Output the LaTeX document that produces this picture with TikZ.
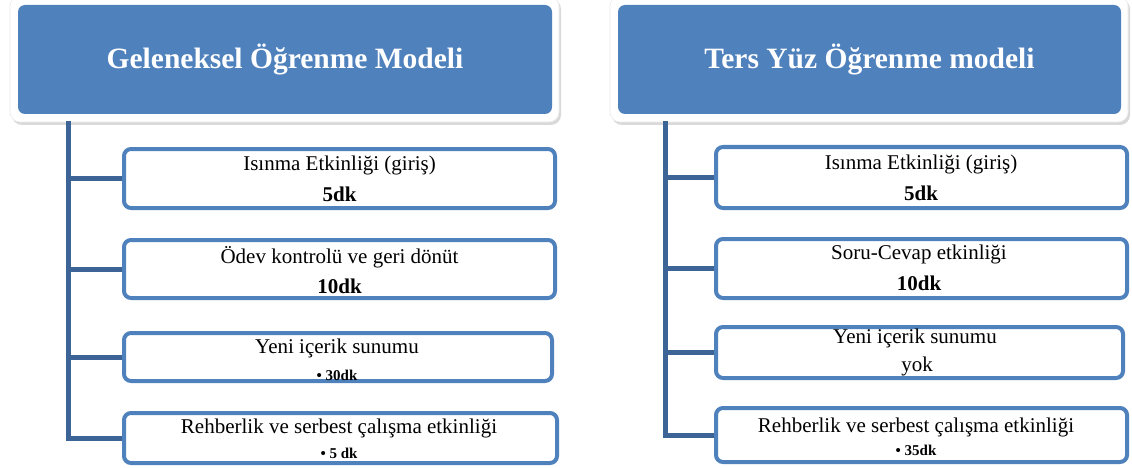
\documentclass[tikz,border=0pt]{standalone}
\usepackage{fontspec}
\setmainfont{Liberation Serif}
\usetikzlibrary{positioning,shadows}

\definecolor{ofisMavi}{RGB}{79,129,189}
\definecolor{hatMavi}{RGB}{60,100,150}

\begin{document}
\begin{tikzpicture}[x=1pt, y=-1pt, every node/.style={inner sep=0pt}]
  \tikzset{
    cerceve/.style={rounded corners=10pt, fill=white, draw=black!8, line width=0.6pt,
      drop shadow={shadow xshift=2pt, shadow yshift=-3pt, opacity=0.3}},
    baslik/.style={rounded corners=7pt, fill=ofisMavi, text=white,
      font=\fontsize{29.5}{34}\selectfont\bfseries},
    kutu/.style={draw=ofisMavi, line width=4pt, rounded corners=7pt, fill=white},
    satir/.style={anchor=base, font=\fontsize{21}{25}\selectfont},
    sure/.style={anchor=base, font=\fontsize{21}{25}\selectfont\bfseries},
    madde/.style={anchor=base, font=\fontsize{15}{18}\selectfont\bfseries},
    hat/.style={draw=hatMavi, line width=5pt}
  }
  \useasboundingbox (0,0) rectangle (1132,468);

  % baslik kutulari
  \node[cerceve, minimum width=549pt, minimum height=126pt] (lcerceve) at (284.5,59) {};
  \node[baslik, minimum width=534pt, minimum height=109pt] (lbaslik) at (285,59.5) {Geleneksel Öğrenme Modeli};
  \node[cerceve, minimum width=518pt, minimum height=126pt] (rcerceve) at (869,59) {};
  \node[baslik, minimum width=503pt, minimum height=109pt] (rbaslik) at (869.5,59.5) {Ters Yüz Öğrenme modeli};

  \coordinate (lkok) at (68,121);
  \coordinate (rkok) at (665,121);

  % sol kutular
  \node[kutu, minimum width=431pt, minimum height=59pt] (l1) at (339.5,178.5) {};
  \node[kutu, minimum width=431pt, minimum height=58pt] (l2) at (339.5,269) {};
  \node[kutu, minimum width=428pt, minimum height=48pt] (l3) at (338,357) {};
  \node[kutu, minimum width=433pt, minimum height=50pt] (l4) at (340.5,438) {};

  % sag kutular
  \node[kutu, minimum width=411pt, minimum height=61pt] (r1) at (921.5,177.5) {};
  \node[kutu, minimum width=411pt, minimum height=59pt] (r2) at (921.5,268.5) {};
  \node[kutu, minimum width=407pt, minimum height=51pt] (r3) at (919.5,352.5) {};
  \node[kutu, minimum width=411pt, minimum height=54pt] (r4) at (921.5,435) {};

  % baglantilar
  \draw[hat] (lkok) |- (l4.west);
  \draw[hat] (lkok |- l1.west) -- (l1.west);
  \draw[hat] (lkok |- l2.west) -- (l2.west);
  \draw[hat] (lkok |- l3.west) -- (l3.west);
  \draw[hat] (rkok) |- (r4.west);
  \draw[hat] (rkok |- r1.west) -- (r1.west);
  \draw[hat] (rkok |- r2.west) -- (r2.west);
  \draw[hat] (rkok |- r3.west) -- (r3.west);

  % sol metinler
  \node[satir] (l1a) at (339.5,170) {Isınma Etkinliği (giriş)};
  \node[sure]  (l1b) at (339.5,201) {5dk};
  \node[satir] (l2a) at (339.5,263) {Ödev kontrolü ve geri dönüt};
  \node[sure]  (l2b) at (339.5,293) {10dk};
  \node[satir] (l3a) at (337,353) {Yeni içerik sunumu};
  \node[madde] (l3b) at (337,380) {• 30dk};
  \node[satir] (l4a) at (339,433) {Rehberlik ve serbest çalışma etkinliği};
  \node[madde] (l4b) at (339,458) {• 5 dk};

  % sag metinler
  \node[satir] (r1a) at (921,169) {Isınma Etkinliği (giriş)};
  \node[sure]  (r1b) at (921,200) {5dk};
  \node[satir] (r2a) at (919,259) {Soru-Cevap etkinliği};
  \node[sure]  (r2b) at (919,290) {10dk};
  \node[satir] (r3a) at (915,343) {Yeni içerik sunumu};
  \node[satir] (r3b) at (917,371) {yok};
  \node[satir] (r4a) at (916,432) {Rehberlik ve serbest çalışma etkinliği};
  \node[madde] (r4b) at (916,455) {• 35dk};
\end{tikzpicture}
\end{document}
